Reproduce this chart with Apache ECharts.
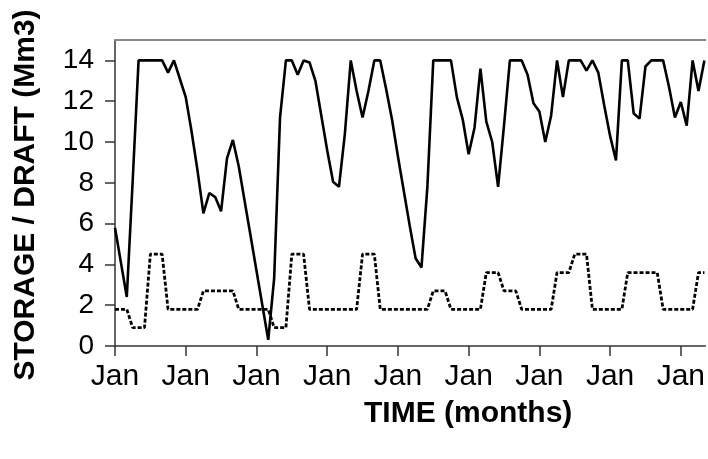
<!DOCTYPE html>
<html><head><meta charset="utf-8">
<script src="https://cdn.jsdelivr.net/npm/echarts@6/dist/echarts.min.js"></script>
<style>html,body{margin:0;padding:0;background:#fff}#c{width:708px;height:459px}</style>
</head><body><div id="c"></div>
<script>
// Monthly storage (Mm3), month 0 .. 100
const storage = [5.8,4.1,2.4,8.1,14,14,14,14,14,13.4,
  14,13.1,12.2,10.5,8.6,6.5,7.5,7.3,6.6,9.2,
  10.1,8.8,7.1,5.4,3.7,2.0,0.3,3.3,11.2,14,
  14,13.3,14,13.9,13.0,11.3,9.6,8.05,7.8,10.4,
  14,12.5,11.2,12.5,14,14,12.6,11.1,9.3,7.6,
  5.9,4.3,3.85,7.8,14,14,14,14,12.2,11.1,
  9.4,10.7,13.6,11.0,10.0,7.8,10.8,14,14,14,
  13.3,11.9,11.5,10.0,11.3,14,12.2,14,14,14,
  13.5,14,13.4,11.8,10.3,9.1,14,14,11.4,11.15,
  13.7,14,14,14,12.7,11.2,11.96,10.8,14,12.5,
  14];
// Monthly draft (Mm3)
const draft = [1.8,1.8,1.8,0.9,0.9,0.9,4.5,4.5,4.5,1.8,
  1.8,1.8,1.8,1.8,1.8,2.7,2.7,2.7,2.7,2.7,
  2.7,1.8,1.8,1.8,1.8,1.8,1.8,0.9,0.9,0.9,
  4.5,4.5,4.5,1.8,1.8,1.8,1.8,1.8,1.8,1.8,
  1.8,1.8,4.5,4.5,4.5,1.8,1.8,1.8,1.8,1.8,
  1.8,1.8,1.8,1.8,2.7,2.7,2.7,1.8,1.8,1.8,
  1.8,1.8,1.8,3.6,3.6,3.6,2.7,2.7,2.7,1.8,
  1.8,1.8,1.8,1.8,1.8,3.6,3.6,3.6,4.5,4.5,
  4.5,1.8,1.8,1.8,1.8,1.8,1.8,3.6,3.6,3.6,
  3.6,3.6,3.6,1.8,1.8,1.8,1.8,1.8,1.8,3.6,
  3.6];
const xTickMonths = [0,12,24,36,48,60,72,84,96];
const xTickLabels = ['Jan','Jan','Jan','Jan','Jan','Jan','Jan','Jan','Jan'];
const yTicks = [0,2,4,6,8,10,12,14];
const yTickLabels = ['0','2','4','6','8','10','12','14'];
const xTitle = 'TIME (months)';
const yTitle = 'STORAGE / DRAFT (Mm3)';

const chart = echarts.init(document.getElementById('c'), null, {renderer:'canvas'});
const FONT = '"Liberation Sans", Arial, sans-serif';
chart.setOption({
  animation:false,
  backgroundColor:'#fff',
  grid:{left:115, top:40, right:0, bottom:113},
  xAxis:[{
    type:'value', min:0, max:100.17,
    axisLine:{show:true, lineStyle:{color:'#333', width:1.5}},
    axisTick:{show:true, customValues:xTickMonths, length:10, lineStyle:{color:'#333', width:1.5}},
    axisLabel:{customValues:xTickMonths, margin:16, color:'#000', fontSize:30, fontFamily:FONT,
      formatter:(v)=>xTickLabels[xTickMonths.indexOf(v)] || ''},
    splitLine:{show:false}
  },{
    type:'value', position:'top', min:0, max:100.17,
    axisLine:{show:true, lineStyle:{color:'#888', width:2}},
    axisTick:{show:false}, axisLabel:{show:false}, splitLine:{show:false}
  }],
  yAxis:{
    type:'value', min:0, max:15,
    axisLine:{show:true, lineStyle:{color:'#333', width:1.5}},
    axisTick:{show:true, customValues:yTicks, length:10, lineStyle:{color:'#333', width:1.5}},
    axisLabel:{customValues:yTicks, margin:21, color:'#000', fontSize:28, fontFamily:FONT,
      formatter:(v)=>yTickLabels[yTicks.indexOf(v)] || ''},
    splitLine:{show:false}
  },
  graphic:[
    {type:'text', left:364, top:399, style:{text:xTitle, font:'bold 30px '+FONT, fill:'#000'}},
    {type:'text', x:26, y:195, rotation:Math.PI/2,
      style:{text:yTitle, font:'bold 30px '+FONT, fill:'#000', align:'center', verticalAlign:'middle'}}
  ],
  series:[
    {type:'line', data:storage.map((v,i)=>[i,v]), showSymbol:false, symbol:'none',
      lineStyle:{color:'#000', width:2.6}, z:3},
    {type:'line', data:draft.map((v,i)=>[i,v]), showSymbol:false, symbol:'none',
      lineStyle:{color:'#000', width:2.8, type:[4,2]}, z:2}
  ]
});
</script></body></html>
